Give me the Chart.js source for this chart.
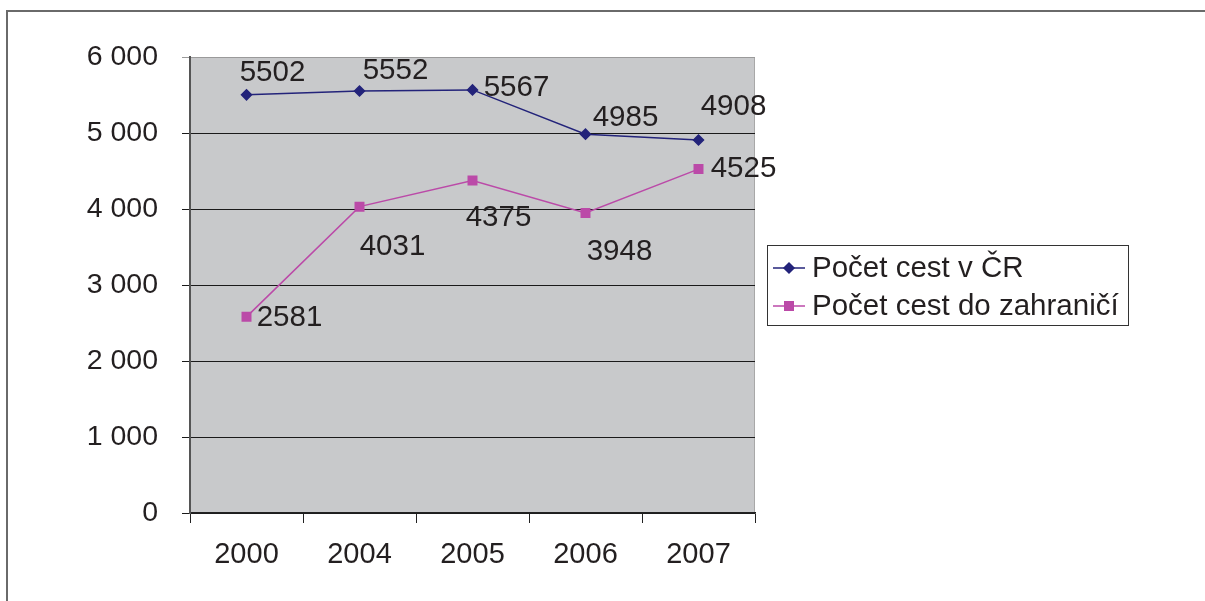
<!DOCTYPE html>
<html>
<head>
  <title>Počet cest</title>
  <style>
    body { margin: 0; background: #fff; }
    #wrap { width: 1205px; height: 601px; position: relative; }
  </style>
</head>
<body>
  <div id="wrap"><canvas id="chart" width="1205" height="601"></canvas></div>

  <script src="https://cdn.jsdelivr.net/npm/chart.js"></script>
  <script>
    const years = ["2000", "2004", "2005", "2006", "2007"];
    const tripsCZ = [5502, 5552, 5567, 4985, 4908];
    const tripsAbroad = [2581, 4031, 4375, 3948, 4525];
    const seriesNames = ["Počet cest v ČR", "Počet cest do zahraničí"];
    const yMax = 6000;
    const yStep = 1000;

    // where each value label sits relative to its point (px)
    const labelOffsets = [
      [[26, -22], [36, -20], [44, -2], [40, -16], [35, -33]],
      [[43, 1], [33, 40], [26, 37], [34, 39], [45, 0]]
    ];

    const FONT = "'Liberation Sans', Arial, sans-serif";
    const navy = "#23237a";
    const pink = "#bb4aa8";

    const fmt = v => String(v).replace(/\B(?=(\d{3})+(?!\d))/g, " ");

    // frame, plot background, value labels and legend
    const decor = {
      id: 'decor',
      beforeDraw(chart) {
        const c = chart.ctx, a = chart.chartArea;
        c.save();
        c.fillStyle = "#c8c9cb";
        c.fillRect(a.left, a.top, a.right - a.left, a.bottom - a.top);
        c.strokeStyle = "#a8a8a8";
        c.lineWidth = 1;
        c.beginPath();
        c.moveTo(a.left, a.top + 0.5); c.lineTo(a.right - 0.5, a.top + 0.5);
        c.lineTo(a.right - 0.5, a.bottom);
        c.stroke();
        // outer frame (runs off the picture to the right and bottom)
        c.strokeStyle = "#6a6a6a";
        c.lineWidth = 2;
        c.beginPath();
        c.moveTo(7, 700); c.lineTo(7, 11); c.lineTo(1300, 11);
        c.stroke();
        c.restore();
      },
      afterDatasetsDraw(chart) {
        const c = chart.ctx;
        c.save();
        c.font = "29.5px " + FONT;
        c.fillStyle = "#231f20";
        c.textAlign = "center";
        c.textBaseline = "middle";
        chart.data.datasets.forEach((ds, di) => {
          chart.getDatasetMeta(di).data.forEach((pt, i) => {
            const o = labelOffsets[di][i];
            c.fillText(String(ds.data[i]), pt.x + o[0], pt.y + o[1]);
          });
        });
        // legend
        const lx = 767, ly = 245, lw = 361, lh = 80;
        c.fillStyle = "#fff";
        c.fillRect(lx, ly, lw, lh);
        c.strokeStyle = "#333";
        c.lineWidth = 1;
        c.strokeRect(lx + 0.5, ly + 0.5, lw, lh);
        const rows = [ly + 23, ly + 61];
        chart.data.datasets.forEach((ds, di) => {
          const y = rows[di];
          c.strokeStyle = ds.borderColor;
          c.lineWidth = 1.5;
          c.beginPath(); c.moveTo(lx + 6, y); c.lineTo(lx + 38, y); c.stroke();
          Chart.helpers.drawPoint(c, {
            pointStyle: ds.pointStyle, radius: ds.pointRadius, borderWidth: 1
          }, lx + 22, y);
          c.fillStyle = ds.backgroundColor;
          c.fill();
          c.fillStyle = "#231f20";
          c.textAlign = "left";
          c.fillText(ds.label, lx + 45, y + 1);
        });
        c.restore();
      }
    };

    new Chart(document.getElementById('chart'), {
      type: 'line',
      data: {
        labels: years,
        datasets: [
          {
            label: seriesNames[0], data: tripsCZ,
            borderColor: navy, backgroundColor: navy,
            borderWidth: 1.5, pointStyle: 'rectRot', pointRadius: 5
          },
          {
            label: seriesNames[1], data: tripsAbroad,
            borderColor: pink, backgroundColor: pink,
            borderWidth: 1.5, pointStyle: 'rect', pointRadius: 6
          }
        ]
      },
      options: {
        responsive: false,
        animation: false,
        layout: { padding: { left: 0, top: 57, right: 450, bottom: 0 } },
        elements: { line: { tension: 0 }, point: { borderWidth: 1 } },
        plugins: { legend: { display: false }, tooltip: { enabled: false } },
        scales: {
          x: {
            offset: true,
            afterFit: s => { s.height = 88; },
            border: { color: "#222", width: 1.5 },
            grid: { offset: true, drawOnChartArea: false, tickLength: 10, color: "#222" },
            ticks: { color: "#231f20", padding: 15, font: { family: FONT, size: 29 } }
          },
          y: {
            min: 0, max: yMax,
            afterFit: s => { s.width = 190; },
            border: { color: "#555", width: 2 },
            grid: {
              tickLength: 8,
              color: ctx => (ctx.tick && ctx.tick.value === yMax) ? "#9a9a9a" : "#1a1a1a",
              lineWidth: 1
            },
            ticks: {
              stepSize: yStep, padding: 24, color: "#231f20",
              font: { family: FONT, size: 28.5 },
              callback: v => fmt(v)
            }
          }
        }
      },
      plugins: [decor]
    });
  </script>
</body>
</html>
